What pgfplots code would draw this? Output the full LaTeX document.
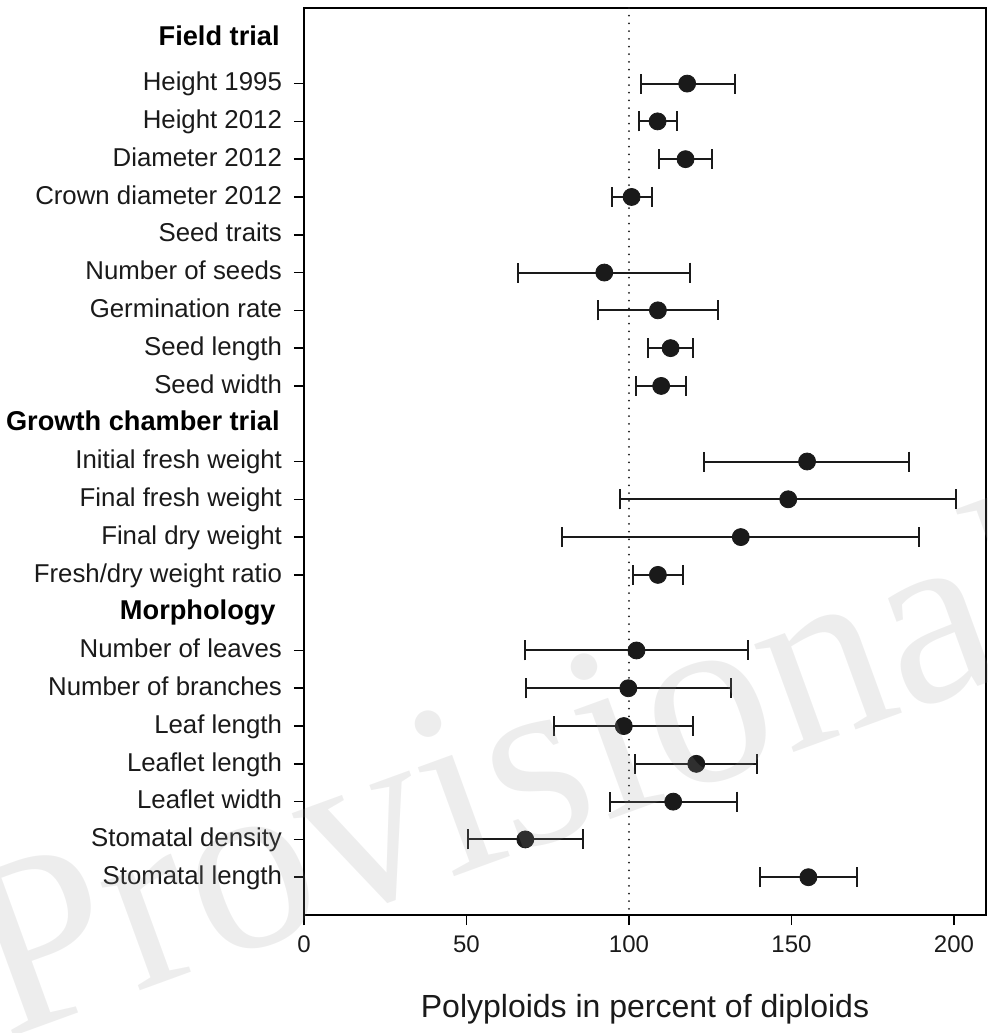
\documentclass[border=0pt]{standalone}
\usepackage{fontspec}
\setmainfont{Liberation Sans}
\newfontfamily\wmfont{Liberation Serif}
\usepackage{pgfplots}
\pgfplotsset{compat=1.18}
\usepackage{pgfplotstable}
\definecolor{ptc}{HTML}{1A1A1A}
\definecolor{wmc}{RGB}{151,151,151}

\pgfplotstableread{
y x lo hi
1 117.9 103.6 132.6
2 108.8 103.2 114.7
3 117.4 109.2 125.6
4 100.8 94.7 107.1
6 92.4 65.8 118.8
7 108.9 90.6 127.5
8 112.8 105.8 119.8
9 109.9 102.2 117.4
11 154.8 123.2 186.3
12 149.0 97.3 200.6
13 134.4 79.5 189.2
14 108.9 101.2 116.7
16 102.3 68.1 136.5
17 99.8 68.4 131.3
18 98.4 77.0 119.7
19 120.7 102.0 139.5
20 113.6 94.2 133.1
21 68.1 50.4 85.7
22 155.2 140.3 170.1
}\data

\begin{document}
\begin{tikzpicture}
\begin{axis}[name=ax, scale only axis, width=341pt, height=453.5pt,
  xmin=0, xmax=209.85, ymin=-1, ymax=23, y dir=reverse,
  axis line style={line width=1pt, black},
  xtick={0,50,100,150,200},
  ytick={1,2,3,4,5,6,7,8,9,11,12,13,14,16,17,18,19,20,21,22},
  yticklabels={Height 1995, Height 2012, Diameter 2012, Crown diameter 2012, Seed traits, Number of seeds, Germination rate, Seed length, Seed width, Initial fresh weight, Final fresh weight, Final dry weight, Fresh/dry weight ratio, Number of leaves, Number of branches, Leaf length, Leaflet length, Leaflet width, Stomatal density, Stomatal length},
  tick align=outside, tick pos=left,
  major tick length=5pt,
  tick style={line width=0.8pt, black},
  yticklabel style={font=\fontsize{12.9}{15}\selectfont, text=ptc, text height=0.72em, text depth=0pt, xshift=-2.5pt},
  xticklabel style={font=\fontsize{12}{14}\selectfont, text=ptc, yshift=-2pt},
  /pgf/number format/assume math mode=true,
  xlabel={Polyploids in percent of diploids},
  xlabel style={font=\fontsize{16}{19}\selectfont, text=ptc, yshift=-14pt},
  clip=false,
]
\addplot[ptc, line width=1pt, dash pattern=on 0pt off 3.85pt, line cap=round, forget plot] coordinates {(100,-1) (100,23)};
\addplot[draw=none, mark=none, forget plot,
  error bars/.cd, x dir=both, x explicit,
  error bar style={line width=1pt, draw=ptc, solid},
  error mark options={line width=1pt, draw=ptc, mark size=5pt, solid, rotate=90}]
  table[x=x, y=y, x error plus expr=\thisrow{hi}-\thisrow{x}, x error minus expr=\thisrow{x}-\thisrow{lo}] \data;
\addplot[only marks, mark=*, mark size=4.25pt, mark options={fill=ptc, draw=ptc, solid}] table[x=x, y=y] \data;

\node[anchor=east, inner sep=0pt, xshift=-12pt, font=\bfseries\fontsize{13.6}{16}\selectfont, text height=0.72em, text depth=0pt] at (axis cs:0,-0.2) {Field trial};
\node[anchor=east, inner sep=0pt, xshift=-12pt, font=\bfseries\fontsize{13.6}{16}\selectfont, text height=0.72em, text depth=0pt] at (axis cs:0,10) {Growth chamber trial};
\node[anchor=east, inner sep=0pt, xshift=-14pt, font=\bfseries\fontsize{13.6}{16}\selectfont, text height=0.72em, text depth=0pt] at (axis cs:0,15) {Morphology};
\end{axis}
\node[anchor=base west, rotate=20, inner sep=0pt, font=\wmfont\fontsize{125}{125}\selectfont, text=wmc, text opacity=0.17] at ([xshift=-149.5pt, yshift=-62.5pt]ax.south west) {Provisional};
\pgfresetboundingbox
\path[use as bounding box] ([xshift=-152pt,yshift=-59pt]ax.south west) rectangle ([xshift=341.5pt, yshift=457.5pt]ax.south west);
\end{tikzpicture}
\end{document}
